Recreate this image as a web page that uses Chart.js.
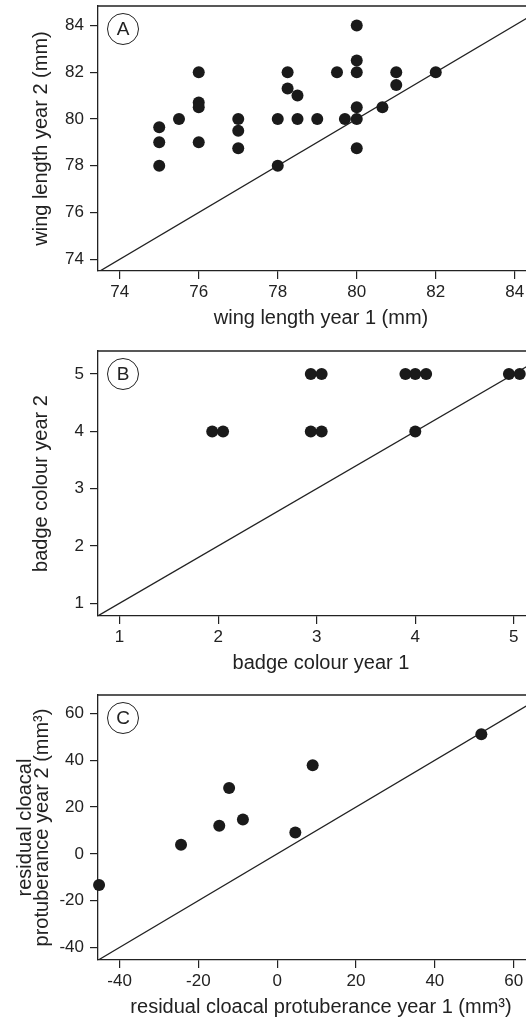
<!DOCTYPE html>
<html><head><meta charset="utf-8">
<script src="https://cdn.jsdelivr.net/npm/chart.js@4/dist/chart.umd.min.js"></script>
<style>
html,body{margin:0;padding:0;background:#fff;overflow:hidden;width:526px;height:1020px;position:relative;}
.panel{position:absolute;left:0;width:550px;height:345px;}
</style></head>
<body>
<div class="panel" style="top:0"><canvas id="cA" width="550" height="345"></canvas></div>
<div class="panel" style="top:345px"><canvas id="cB" width="550" height="345"></canvas></div>
<div class="panel" style="top:689px"><canvas id="cC" width="550" height="345"></canvas></div>
<script>
// ---- data ----
const wingYear1 = [75,75,75,75.5,76,76,76,76,77,77,77,78,78,78.25,78.25,78.5,78.5,79,79.5,79.7,80,80,80,80,80,80,80.65,81,81,82];
const wingYear2 = [79.65,79,78,80,82,80.7,80.5,79,80,79.5,78.75,80,78,82,81.3,81,80,80,82,80,84,82.5,82,80.5,80,78.75,80.5,82,81.45,82];
const badgeYear1 = [1.94,2.05,2.94,3.05,2.94,3.05,3.9,4.0,4.11,4.0,4.95,5.06];
const badgeYear2 = [4,4,4,4,5,5,5,5,5,4,5,5];
const cpYear1 = [-45.2,-24.4,-14.7,-12.2,-8.7,4.6,9.0,51.8];
const cpYear2 = [-13.3,3.9,12,28.1,14.7,9.1,37.9,51.1];
const wingTicks = [74,76,78,80,82,84];
const badgeTicks = [1,2,3,4,5];
const cpTicks = [-40,-20,0,20,40,60];

const FONT = '"Liberation Sans", Arial, Helvetica, sans-serif';
const INK = '#222';
Chart.defaults.font.family = FONT;
Chart.defaults.color = INK;

const framePlugin = {
  id: 'frame',
  beforeDatasetsDraw(chart) {
    const {ctx, chartArea: a} = chart;
    ctx.save();
    ctx.strokeStyle = INK; ctx.lineWidth = 1.3;
    ctx.beginPath();
    ctx.moveTo(a.left, a.top); ctx.lineTo(a.right, a.top); ctx.lineTo(a.right, a.bottom);
    ctx.stroke();
    ctx.restore();
  }
};
const letterPlugin = {
  id: 'letter',
  afterDraw(chart, args, opts) {
    const {ctx, chartArea: a} = chart;
    const cx = a.left + 25, cy = a.top + 23;
    ctx.save();
    ctx.beginPath(); ctx.arc(cx, cy, 15.5, 0, Math.PI * 2);
    ctx.lineWidth = 1; ctx.strokeStyle = INK; ctx.stroke();
    ctx.fillStyle = INK; ctx.font = '19px ' + FONT;
    ctx.textAlign = 'center'; ctx.textBaseline = 'middle';
    ctx.fillText(opts.text, cx, cy + 1);
    ctx.restore();
  }
};

function makeChart(id, xs, ys, ticksX, ticksY, xr, yr, xTitle, yTitle, letter, yTitleOpts) {
  const tickFont = {size: 17};
  return new Chart(document.getElementById(id), {
    type: 'scatter',
    data: {datasets: [
      {data: xs.map((x, i) => ({x: x, y: ys[i]})), backgroundColor: '#1a1a1a', borderWidth: 0,
       pointRadius: 6, pointHoverRadius: 6, clip: false},
      {type: 'line', data: [{x: xr[0], y: xr[0]}, {x: xr[1], y: xr[1]}], borderColor: INK,
       borderWidth: 1.3, pointRadius: 0, fill: false, tension: 0}
    ]},
    options: {
      responsive: false, animation: false, devicePixelRatio: 1, events: [],
      layout: {padding: {top: 6, right: 4, left: 0, bottom: 0}},
      plugins: {legend: {display: false}, tooltip: {enabled: false}, letter: {text: letter}},
      scales: {
        x: {
          type: 'linear', position: 'bottom', min: xr[0], max: xr[1],
          afterBuildTicks: s => { s.ticks = ticksX.map(v => ({value: v})); },
          afterFit: s => { s.height = 74; s.paddingLeft = 0; s.paddingRight = 0; },
          grid: {display: true, drawOnChartArea: false, drawTicks: true, tickLength: 8, color: INK, lineWidth: 1.2},
          border: {display: true, color: INK, width: 1.3},
          ticks: {color: INK, font: tickFont, padding: 3, maxRotation: 0, autoSkip: false},
          title: {display: true, text: xTitle, color: INK, font: {size: 20}, padding: {top: 0, bottom: 15}}
        },
        y: {
          type: 'linear', position: 'left', min: yr[0], max: yr[1],
          afterBuildTicks: s => { s.ticks = ticksY.map(v => ({value: v})); },
          afterFit: s => { s.width = 98; s.paddingTop = 0; s.paddingBottom = 0; },
          grid: {display: true, drawOnChartArea: false, drawTicks: true, tickLength: 8, color: INK, lineWidth: 1.2},
          border: {display: true, color: INK, width: 1.3},
          ticks: {color: INK, font: tickFont, padding: 6, autoSkip: false},
          title: Object.assign({display: true, text: yTitle, color: INK, font: {size: 20}, padding: {top: 29, bottom: 0}}, yTitleOpts || {})
        }
      }
    },
    plugins: [framePlugin, letterPlugin]
  });
}

makeChart('cA', wingYear1, wingYear2, wingTicks, wingTicks, [73.45, 84.74], [73.5, 84.83],
  'wing length year 1 (mm)', 'wing length year 2 (mm)', 'A');
makeChart('cB', badgeYear1, badgeYear2, badgeTicks, badgeTicks, [0.781, 5.306], [0.778, 5.403],
  'badge colour year 1', 'badge colour year 2', 'B');
makeChart('cC', cpYear1, cpYear2, cpTicks, cpTicks, [-45.47, 67.7], [-45.4, 67.9],
  'residual cloacal protuberance year 1 (mm³)', ['residual cloacal', 'protuberance year 2 (mm³)'], 'C',
  {font: {size: 20, lineHeight: 0.85}, padding: {top: 17, bottom: 0}});
</script>
</body></html>
